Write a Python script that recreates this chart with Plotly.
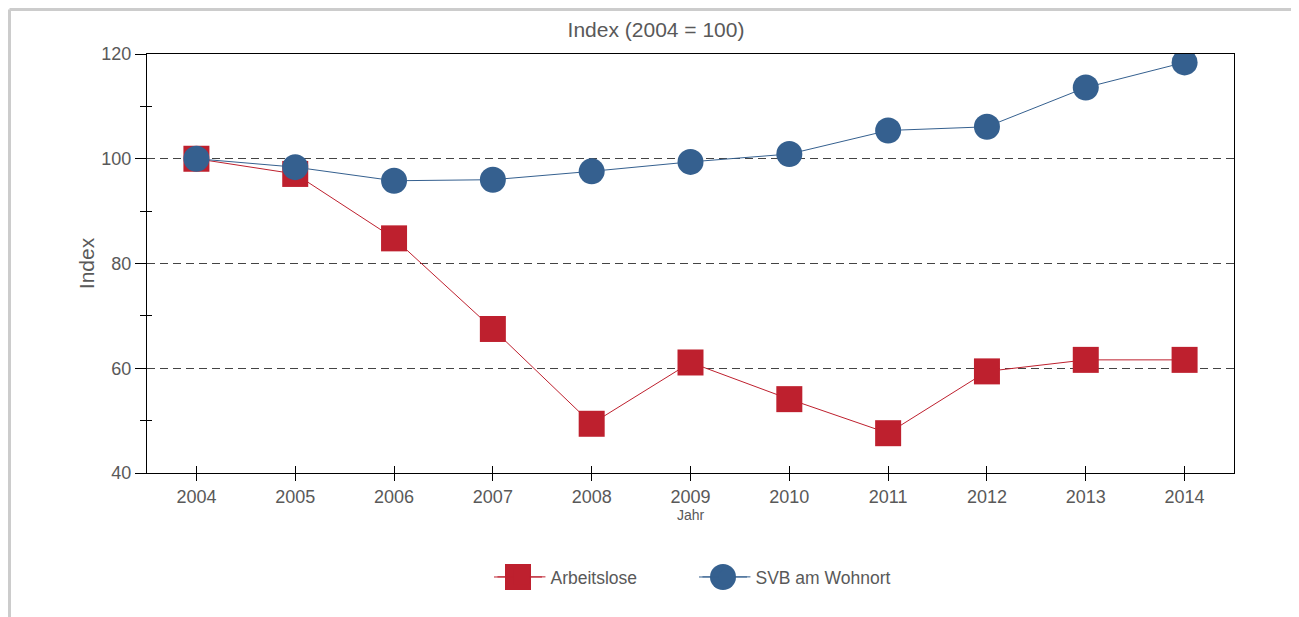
import plotly.graph_objects as go

years = [2004, 2005, 2006, 2007, 2008, 2009, 2010, 2011, 2012, 2013, 2014]
arbeitslose = [100.0, 97.1, 84.8, 67.5, 49.4, 61.1, 54.1, 47.6, 59.4, 61.6, 61.6]
svb = [100.0, 98.4, 95.8, 96.0, 97.6, 99.4, 100.9, 105.4, 106.1, 113.6, 118.4]
y_major = [40, 60, 80, 100, 120]
y_minor = [50, 70, 90, 110]

RED = "#be202e"
BLUE = "#35608f"
GRAY = "#595959"
REG = "Liberation Sans, Arial, sans-serif"

fig = go.Figure()
fig.add_trace(go.Scatter(
    x=years, y=arbeitslose, name="Arbeitslose", mode="lines+markers",
    line=dict(color=RED, width=1),
    marker=dict(symbol="square", size=26, color=RED, line=dict(width=0)),
))
fig.add_trace(go.Scatter(
    x=years, y=svb, name="SVB am Wohnort", mode="lines+markers",
    line=dict(color=BLUE, width=1),
    marker=dict(symbol="circle", size=26, color=BLUE, line=dict(width=0)),
))
# invisible trace on overlay axes (inner half of crossing ticks)
fig.add_trace(go.Scatter(x=[years[0]], y=[y_major[0]], xaxis="x2", yaxis="y2",
                         mode="markers", marker=dict(opacity=0), showlegend=False,
                         hoverinfo="skip"))

xr = [2003.5, 2014.5]
yr = [40, 120]

# plot area geometry (px) used to place decorative legend symbol enlargements
PW, PH = 1087, 419
LEG_Y = -0.2482
dx, dy = 13 / PW, 13 / PH
lx = 24 / PW
red_cx, blue_cx = 0.3413, 0.5299

fig.update_layout(
    width=1291, height=609,
    margin=dict(l=139, r=65, t=46, b=144),
    paper_bgcolor="white", plot_bgcolor="white",
    title=dict(text="Index (2004 = 100)", x=0.4683, xref="paper", xanchor="center",
               y=1 - 22 / 609, yref="container", yanchor="middle",
               font=dict(family=REG, size=21, color=GRAY)),
    xaxis=dict(range=xr, tickvals=years, ticktext=[str(y) for y in years],
               ticks="outside", ticklen=7, tickcolor="black", tickwidth=1,
               showline=True, linecolor="black", linewidth=1, mirror=True,
               showgrid=False, zeroline=False,
               tickfont=dict(family=REG, size=18, color=GRAY),
               title=dict(text="Jahr", font=dict(family=REG, size=14, color=GRAY), standoff=4)),
    yaxis=dict(range=yr, tickvals=y_major,
               ticks="outside", ticklen=11, tickcolor="black", tickwidth=1,
               minor=dict(tickvals=y_minor, ticks="outside", ticklen=6, tickcolor="black", showgrid=False),
               showline=True, linecolor="black", linewidth=1, mirror=True,
               showgrid=True, gridcolor="#444444", gridwidth=1.3, griddash="8px,5px",
               zeroline=False,
               tickfont=dict(family=REG, size=18, color=GRAY),
               title=dict(text="Index", font=dict(family=REG, size=21, color=GRAY), standoff=1)),
    xaxis2=dict(range=xr, overlaying="x", anchor="y2", tickvals=years, ticks="inside",
                ticklen=7, tickcolor="black", showticklabels=False, showline=False,
                showgrid=False, zeroline=False),
    yaxis2=dict(range=yr, overlaying="y", anchor="x2", tickvals=y_minor, ticks="inside",
                ticklen=5, tickcolor="black", showticklabels=False, showline=False,
                showgrid=False, zeroline=False),
    legend=dict(orientation="h", x=0.5064, xanchor="center", y=LEG_Y, yanchor="middle",
                bgcolor="rgba(0,0,0,0)",
                font=dict(family=REG, size=17.5, color=GRAY), entrywidth=142, itemwidth=48),
    shapes=[
        dict(type="line", xref="paper", yref="paper", x0=-0.1265, x1=1.2, y0=1.1062, y1=1.1062,
             line=dict(color="#cccccc", width=3), layer="below"),
        dict(type="line", xref="paper", yref="paper", x0=-0.1265, x1=-0.1265, y0=-0.5, y1=1.1062,
             line=dict(color="#cccccc", width=3), layer="below"),
        # enlarged legend symbols
        dict(type="line", xref="paper", yref="paper", x0=red_cx - lx, x1=red_cx + lx,
             y0=LEG_Y, y1=LEG_Y, line=dict(color=RED, width=1)),
        dict(type="rect", xref="paper", yref="paper", x0=red_cx - dx, x1=red_cx + dx,
             y0=LEG_Y - dy, y1=LEG_Y + dy, fillcolor=RED, line=dict(width=0)),
        dict(type="line", xref="paper", yref="paper", x0=blue_cx - lx, x1=blue_cx + lx,
             y0=LEG_Y, y1=LEG_Y, line=dict(color=BLUE, width=1)),
        dict(type="circle", xref="paper", yref="paper", x0=blue_cx - dx, x1=blue_cx + dx,
             y0=LEG_Y - dy, y1=LEG_Y + dy, fillcolor=BLUE, line=dict(width=0)),
    ],
)

fig.write_html("out.html")
